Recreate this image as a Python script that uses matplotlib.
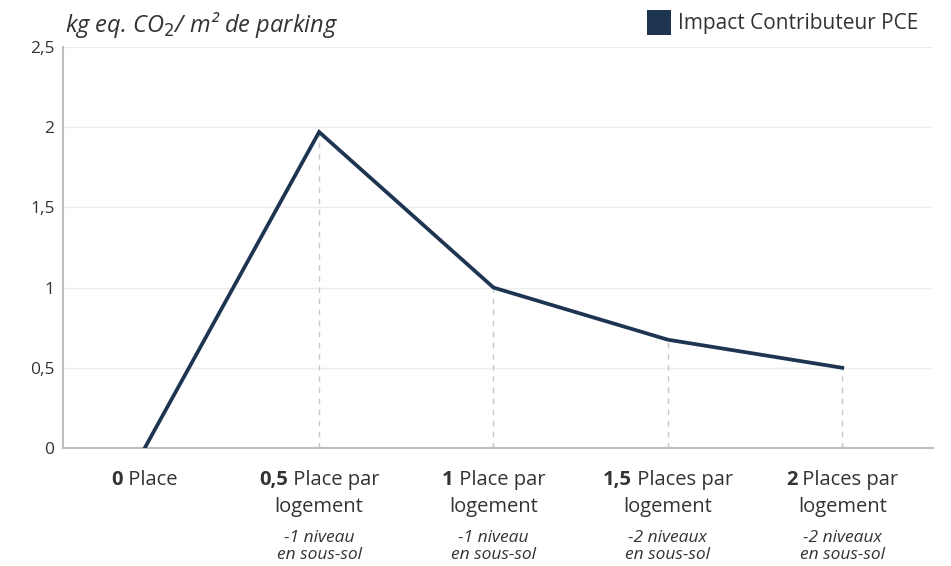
import matplotlib
import matplotlib.pyplot as plt
from matplotlib.patches import Rectangle

matplotlib.use('Agg')

# ---------------------- DATA
categories_bold = ["0", "0,5", "1", "1,5", "2"]
categories_rest = [" Place", " Place par", " Place par", " Places par", " Places par"]
categories_line2 = ["", "logement", "logement", "logement", "logement"]
categories_sub1 = ["", "-1 niveau", "-1 niveau", "-2 niveaux", "-2 niveaux"]
categories_sub2 = ["", "en sous-sol", "en sous-sol", "en sous-sol", "en sous-sol"]
impact = [0.0, 1.97, 1.0, 0.675, 0.5]
yticks = [0, 0.5, 1, 1.5, 2, 2.5]
ytick_labels = ["0", "0,5", "1", "1,5", "2", "2,5"]

line_color = "#1e3552"
text_color = "#333333"

plt.rcParams['font.family'] = ["Open Sans", 'DejaVu Sans']

# ---------------------- FIGURE
fig = plt.figure(figsize=(9.51, 5.66), dpi=100)
ax = fig.add_axes([0.066, 0.2085, 0.915, 0.7085])

x = list(range(len(impact)))

# dashed drop lines
for xi, yi in zip(x[1:], impact[1:]):
    ax.plot([xi, xi], [0, yi], color="#c8c8c8", lw=1, ls=(0, (4, 4)), zorder=1)

ax.plot(x, impact, color=line_color, lw=2.7, solid_joinstyle="miter", zorder=3)

ax.set_xlim(-0.47, 4.52)
ax.set_ylim(0, 2.5)
ax.set_yticks(yticks)
ax.set_yticklabels(ytick_labels, fontsize=12.5, color=text_color)
ax.set_xticks([])
ax.tick_params(axis="y", length=0, pad=6)
ax.grid(axis="y", color="#ececec", lw=1)
ax.set_axisbelow(True)

for s in ["top", "right"]:
    ax.spines[s].set_visible(False)
for s in ["left", "bottom"]:
    ax.spines[s].set_color("#bdbdbd")
    ax.spines[s].set_linewidth(1.5)

# ---------------------- CATEGORY LABELS
trans = ax.get_xaxis_transform()
pairs = []
for xi, b, r, l2, s1, s2 in zip(x, categories_bold, categories_rest, categories_line2,
                                categories_sub1, categories_sub2):
    tb = ax.text(xi, -0.080, b, transform=trans, fontsize=14.5, fontweight="bold",
                 color=text_color, ha="left", va="center")
    tr = ax.annotate(r, xy=(1, 0.5), xycoords=tb, fontsize=14.5, color=text_color,
                     ha="left", va="center")
    pairs.append((tb, tr))
    if l2:
        ax.text(xi, -0.147, l2, transform=trans, fontsize=14.5, color=text_color,
                ha="center", va="center")
    if s1:
        ax.text(xi, -0.224, s1, transform=trans, fontsize=12.5, style="italic",
                color=text_color, ha="center", va="center")
        ax.text(xi, -0.268, s2, transform=trans, fontsize=12.5, style="italic",
                color=text_color, ha="center", va="center")

# center bold + regular parts together under each point
fig.canvas.draw()
renderer = fig.canvas.get_renderer()
for tb, tr in pairs:
    wb = tb.get_window_extent(renderer).width
    wr = tr.get_window_extent(renderer).width
    xi = tb.get_position()[0]
    disp = ax.transData.transform((xi, 0))[0]
    new_x = ax.transData.inverted().transform((disp - (wb + wr) / 2, 0))[0]
    tb.set_x(new_x)

# ---------------------- TITLE / LEGEND
fig.text(0.068, 0.955, "kg eq. CO$_2$/ m² de parking", fontsize=17, style="italic",
         color=text_color, ha="left", va="center")

fig.patches.append(Rectangle((0.680, 0.938), 0.026, 0.044, transform=fig.transFigure,
                             facecolor=line_color, edgecolor="none"))
fig.text(0.713, 0.958, "Impact Contributeur PCE", fontsize=15, color=text_color,
         ha="left", va="center")

fig.savefig("out.png", dpi=100)
